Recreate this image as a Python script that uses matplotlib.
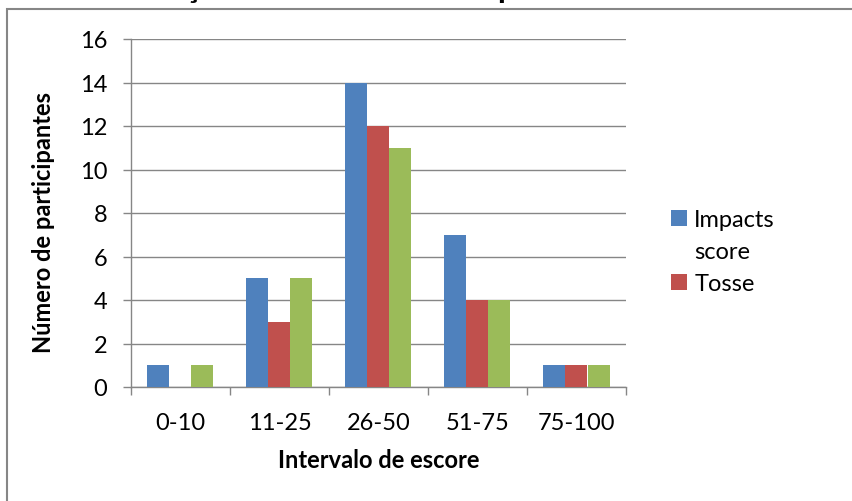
import matplotlib.pyplot as plt
from matplotlib.patches import Patch, Rectangle
import numpy as np

plt.rcParams['font.family'] = ['Lato', 'DejaVu Sans']

categorias = ['0-10', '11-25', '26-50', '51-75', '75-100']
impacts = [1, 5, 14, 7, 1]
tosse = [0, 3, 12, 4, 1]
terceira = [1, 5, 11, 4, 1]

azul = '#4F81BD'
vermelho = '#C0504D'
verde = '#9BBB59'
cinza = '#868686'

fig = plt.figure(figsize=(8.53, 5.02), dpi=100)
ax = fig.add_axes([131 / 853, 1 - 388 / 502, 495 / 853, 348 / 502])

x = np.arange(len(categorias))
w = 1 / 4.5
ax.bar(x - w, impacts, w, color=azul, zorder=3)
ax.bar(x, tosse, w, color=vermelho, zorder=3)
ax.bar(x + w, terceira, w, color=verde, zorder=3)

ax.set_xlim(-0.5, len(categorias) - 0.5)
ax.set_ylim(0, 16)
ax.set_yticks(range(0, 17, 2))
ax.yaxis.grid(True, color=cinza, linewidth=1.0, zorder=0)
ax.set_axisbelow(True)

# marcas do eixo x nos limites das categorias, rótulos no centro
ax.set_xticks(x)
ax.set_xticklabels(categorias)
ax.set_xticks(np.arange(-0.5, len(categorias)), minor=True)
ax.tick_params(axis='x', which='major', length=0, pad=18, labelsize=17)
ax.tick_params(axis='x', which='minor', length=6, width=1.0, color=cinza)
ax.tick_params(axis='y', length=6, width=1.0, color=cinza, pad=11, labelsize=17)

for s in ['top', 'right']:
    ax.spines[s].set_visible(False)
for s in ['left', 'bottom']:
    ax.spines[s].set_color(cinza)
    ax.spines[s].set_linewidth(1.0)

ax.set_xlabel('Intervalo de escore', fontsize=17, fontweight='bold')
ax.xaxis.set_label_coords(0.5, -0.175)
ax.set_ylabel('Número de participantes', fontsize=17, fontweight='bold')
ax.yaxis.set_label_coords(-0.154, 0.477)

# legenda (a série verde fica de fora)
handles = [Patch(facecolor=azul), Patch(facecolor='none', edgecolor='none'),
           Patch(facecolor=vermelho)]
fig.legend(handles, ['Impacts', 'score', 'Tosse'], loc='upper left',
           bbox_to_anchor=(671 / 853, 1 - 210 / 502), frameon=False,
           fontsize=17, borderpad=0, borderaxespad=0, labelspacing=0.47,
           handlelength=0.68, handleheight=0.68, handletextpad=0.3)

# moldura da área do gráfico
fig.patches.append(Rectangle((7 / 853, -0.1), 1.2, 1 - 10 / 502 + 0.1,
                             transform=fig.transFigure, fill=False,
                             edgecolor=cinza, linewidth=1.5))

fig.text(62 / 853, 1 + 2 / 502, 'Distribuição dos escores do Impacts score e da Tosse',
         fontsize=23, fontweight='bold', ha='left', va='baseline')

fig.savefig('out.png', dpi=100)
